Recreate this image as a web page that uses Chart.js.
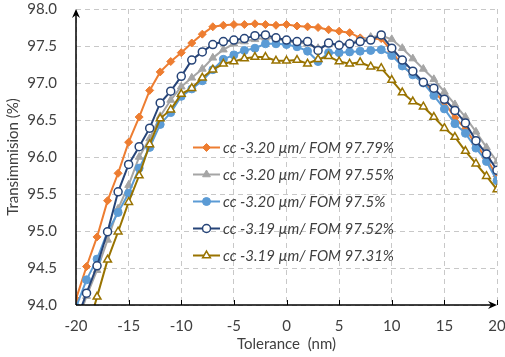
<!DOCTYPE html>
<html>
<head>
<meta charset="utf-8">
<script src="https://cdn.jsdelivr.net/npm/chart.js@4.4.1/dist/chart.umd.min.js"></script>
<style>
  html, body { margin: 0; padding: 0; background: #fff; }
</style>
</head>
<body>
<canvas id="myChart" width="505" height="357"></canvas>
<script>
// tolerance (nm)
const tolerance = [-20, -19, -18, -17, -16, -15, -14, -13, -12, -11, -10, -9, -8, -7, -6, -5, -4, -3, -2, -1, 0,
  1, 2, 3, 4, 5, 6, 7, 8, 9, 10, 11, 12, 13, 14, 15, 16, 17, 18, 19, 20];

// transmission (%) per design
const cc320fom9779 = [94.08, 94.52, 94.92, 95.41, 95.78, 96.20, 96.54, 96.90, 97.15, 97.29, 97.41, 97.54, 97.66, 97.76, 97.78, 97.79, 97.79, 97.80, 97.79, 97.78, 97.79,
  97.77, 97.76, 97.75, 97.72, 97.70, 97.68, 97.61, 97.59, 97.60, 97.43, 97.23, 97.12, 97.00, 96.88, 96.74, 96.53, 96.38, 96.17, 95.98, 95.74];
const cc320fom9755 = [93.70, 94.12, 94.47, 94.88, 95.30, 95.62, 96.00, 96.25, 96.55, 96.77, 96.95, 97.07, 97.19, 97.34, 97.45, 97.53, 97.56, 97.59, 97.61, 97.60, 97.56,
  97.55, 97.53, 97.47, 97.52, 97.52, 97.54, 97.58, 97.62, 97.64, 97.59, 97.47, 97.33, 97.19, 97.05, 96.88, 96.71, 96.54, 96.34, 96.13, 95.94];
const cc320fom975 = [93.97, 94.34, 94.62, 94.99, 95.25, 95.51, 95.85, 96.13, 96.44, 96.60, 96.82, 96.92, 97.03, 97.18, 97.32, 97.38, 97.44, 97.47, 97.53, 97.53, 97.52,
  97.49, 97.43, 97.29, 97.41, 97.41, 97.42, 97.43, 97.44, 97.45, 97.37, 97.23, 97.11, 97.00, 96.83, 96.65, 96.45, 96.32, 96.12, 95.94, 95.68];
const cc319fom9752 = [93.77, 94.16, 94.53, 94.99, 95.53, 95.90, 96.14, 96.39, 96.73, 96.89, 97.09, 97.31, 97.42, 97.52, 97.56, 97.58, 97.60, 97.64, 97.65, 97.61, 97.58,
  97.56, 97.56, 97.44, 97.54, 97.51, 97.53, 97.56, 97.58, 97.65, 97.47, 97.31, 97.16, 97.01, 96.93, 96.78, 96.63, 96.46, 96.22, 96.04, 95.82];
const cc319fom9731 = [93.20, 93.62, 94.11, 94.61, 94.99, 95.39, 95.75, 96.17, 96.52, 96.64, 96.85, 96.93, 97.07, 97.18, 97.26, 97.29, 97.33, 97.35, 97.35, 97.30, 97.30,
  97.31, 97.26, 97.32, 97.36, 97.29, 97.26, 97.28, 97.22, 97.20, 97.04, 96.87, 96.75, 96.68, 96.54, 96.39, 96.27, 96.08, 95.91, 95.74, 95.56];

const seriesLabels = [
  'cc -3.20 µm/ FOM 97.79%',
  'cc -3.20 µm/ FOM 97.55%',
  'cc -3.20 µm/ FOM 97.5%',
  'cc -3.19 µm/ FOM 97.52%',
  'cc -3.19 µm/ FOM 97.31%',
];

const toPoints = (vals) => tolerance.map((t, i) => ({x: t, y: vals[i]}));
const FONT = 'Lato, "Open Sans", sans-serif';
const TEXT = '#404040';

// axis lines with arrows + inner x ticks
const axesPlugin = {
  id: 'arrowAxes',
  afterDatasetsDraw(chart) {
    const {ctx, chartArea: a, scales} = chart;
    ctx.save();
    ctx.strokeStyle = '#000';
    ctx.fillStyle = '#000';
    ctx.lineWidth = 1.5;
    ctx.beginPath();
    ctx.moveTo(a.left, a.bottom);
    ctx.lineTo(a.left, a.top + 2);
    ctx.moveTo(a.left, a.bottom);
    ctx.lineTo(a.right - 2, a.bottom);
    ctx.stroke();
    ctx.lineWidth = 1;
    scales.x.ticks.forEach((t) => {
      if (t.value === -20) return;
      const px = Math.round(scales.x.getPixelForValue(t.value)) + 0.5;
      ctx.beginPath();
      ctx.moveTo(px, a.bottom);
      ctx.lineTo(px, a.bottom - 5);
      ctx.stroke();
    });
    ctx.beginPath();
    ctx.moveTo(a.left, a.top);
    ctx.lineTo(a.left - 4, a.top + 9);
    ctx.lineTo(a.left, a.top + 6);
    ctx.lineTo(a.left + 4, a.top + 9);
    ctx.closePath();
    ctx.fill();
    ctx.beginPath();
    ctx.moveTo(a.right, a.bottom);
    ctx.lineTo(a.right - 9, a.bottom - 4);
    ctx.lineTo(a.right - 6, a.bottom);
    ctx.lineTo(a.right - 9, a.bottom + 4);
    ctx.closePath();
    ctx.fill();
    ctx.restore();
  }
};

// legend drawn inside the plot area
const insideLegend = {
  id: 'insideLegend',
  afterDraw(chart) {
    const {ctx, chartArea: a} = chart;
    const x0 = a.left + 117;
    ctx.save();
    chart.data.datasets.forEach((ds, i) => {
      const y = a.top + 138.5 + i * 27;
      ctx.strokeStyle = ds.borderColor;
      ctx.lineWidth = 2;
      ctx.beginPath();
      ctx.moveTo(x0, y);
      ctx.lineTo(x0 + 27, y);
      ctx.stroke();
      ctx.fillStyle = ds.pointBackgroundColor;
      ctx.lineWidth = ds.pointBorderWidth;
      Chart.helpers.drawPoint(ctx, {pointStyle: ds.pointStyle, radius: ds.pointRadius, borderWidth: ds.pointBorderWidth, rotation: 0}, x0 + 13.5, y);
      ctx.fillStyle = TEXT;
      ctx.font = 'italic 15px ' + FONT;
      ctx.textBaseline = 'middle';
      ctx.textAlign = 'left';
      ctx.fillText(ds.label, x0 + 30, y + 1);
    });
    ctx.restore();
  }
};

const mk = (label, vals, color, style, radius, fill, order) => ({
  label: label,
  data: toPoints(vals),
  borderColor: color,
  backgroundColor: color,
  borderWidth: 2,
  pointStyle: style,
  pointRadius: radius,
  pointBackgroundColor: fill,
  pointBorderColor: color,
  pointBorderWidth: fill === '#fff' ? 1.5 : 1,
  tension: 0,
  order: order,
});

const $ctx = document.getElementById('myChart');
const myChart = new Chart($ctx, {
  type: 'line',
  data: {
    datasets: [
      mk(seriesLabels[0], cc320fom9779, '#ED7D31', 'rectRot', 4, '#ED7D31', 4),
      mk(seriesLabels[1], cc320fom9755, '#A5A5A5', 'triangle', 4.5, '#A5A5A5', 3),
      mk(seriesLabels[2], cc320fom975, '#5B9BD5', 'circle', 4, '#5B9BD5', 2),
      mk(seriesLabels[3], cc319fom9752, '#264478', 'circle', 4, '#fff', 1),
      mk(seriesLabels[4], cc319fom9731, '#997300', 'triangle', 4.5, '#fff', 0),
    ],
  },
  options: {
    responsive: false,
    animation: false,
    layout: {padding: {top: 9, right: 8, left: 0, bottom: 0}},
    plugins: {
      legend: {display: false},
      tooltip: {enabled: false},
    },
    scales: {
      x: {
        type: 'linear',
        min: -20,
        max: 20,
        ticks: {stepSize: 5, color: TEXT, font: {family: FONT, size: 15}, padding: 12, maxRotation: 0},
        grid: {color: '#C8C8C8', drawTicks: false, lineWidth: 1},
        border: {display: false, dash: [5, 4]},
        title: {display: true, text: 'Tolerance  (nm)', color: TEXT, font: {family: FONT, size: 15}, padding: {top: 2, bottom: 4}},
        afterFit: (s) => { s.height = 52; s.paddingLeft = 0; s.paddingRight = 0; },
      },
      y: {
        min: 94,
        max: 98,
        ticks: {stepSize: 0.5, color: TEXT, font: {family: FONT, size: 15}, padding: 19, callback: (v) => v.toFixed(1)},
        grid: {color: '#C8C8C8', drawTicks: false, lineWidth: 1},
        border: {display: false, dash: [5, 4]},
        title: {display: true, text: 'Transimmision (%)', color: TEXT, font: {family: FONT, size: 15}, padding: {top: 4, bottom: 2}},
        afterFit: (s) => { s.width = 76; s.paddingTop = 0; s.paddingBottom = 0; },
      },
    },
  },
  plugins: [axesPlugin, insideLegend],
});
</script>
</body>
</html>
